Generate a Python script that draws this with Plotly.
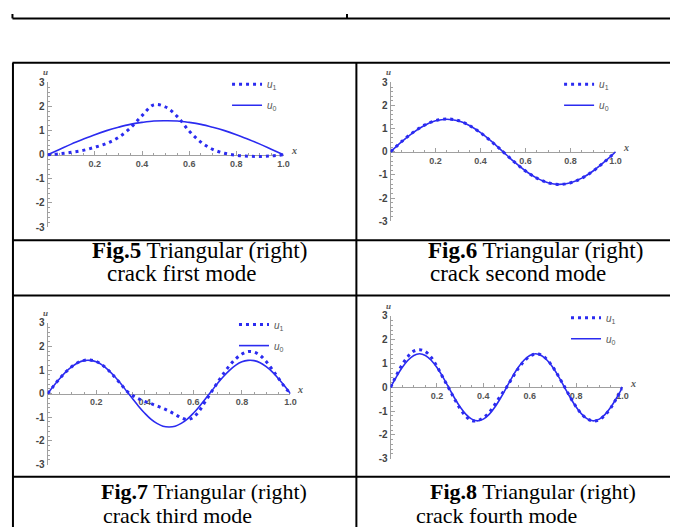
import plotly.graph_objects as go

# ---------------- data ----------------
x_coarse = [0.00, 0.05, 0.10, 0.15, 0.20, 0.25, 0.30, 0.35, 0.40, 0.45, 0.50,
            0.55, 0.60, 0.65, 0.70, 0.75, 0.80, 0.85, 0.90, 0.95, 1.00]
x_fine = [0.000, 0.025, 0.050, 0.075, 0.100, 0.125, 0.150, 0.175, 0.200, 0.225,
          0.250, 0.275, 0.300, 0.325, 0.350, 0.375, 0.400, 0.425, 0.450, 0.475,
          0.500, 0.525, 0.550, 0.575, 0.600, 0.625, 0.650, 0.675, 0.700, 0.725,
          0.750, 0.775, 0.800, 0.825, 0.850, 0.875, 0.900, 0.925, 0.950, 0.975, 1.000]

# Fig.5 first mode
m1_u0 = [0, 0.22, 0.44, 0.64, 0.83, 1.00, 1.14, 1.26, 1.34, 1.40, 1.41,
         1.40, 1.34, 1.26, 1.14, 1.00, 0.83, 0.64, 0.44, 0.22, 0]
m1_u1 = [0, 0.04, 0.10, 0.18, 0.31, 0.47, 0.72, 1.10, 1.62, 2.07, 1.98,
         1.58, 0.98, 0.52, 0.22, 0.06, -0.02, -0.06, -0.07, -0.05, 0]

# Fig.6 second mode
m2_u0 = [0, 0.44, 0.83, 1.14, 1.34, 1.41, 1.34, 1.14, 0.83, 0.44, 0,
         -0.44, -0.83, -1.14, -1.34, -1.41, -1.34, -1.14, -0.83, -0.44, 0]
m2_u1 = [0, 0.45, 0.84, 1.15, 1.35, 1.42, 1.35, 1.14, 0.82, 0.43, 0,
         -0.44, -0.83, -1.14, -1.34, -1.41, -1.34, -1.14, -0.83, -0.44, 0]

# Fig.7 third mode
m3_u0 = [0, 0.33, 0.64, 0.92, 1.14, 1.31, 1.40, 1.41, 1.35, 1.21, 1.00,
         0.74, 0.44, 0.11, -0.22, -0.54, -0.83, -1.08, -1.26, -1.38, -1.41,
         -1.38, -1.26, -1.08, -0.83, -0.54, -0.22, 0.11, 0.44, 0.74, 1.00,
         1.21, 1.35, 1.41, 1.40, 1.31, 1.14, 0.92, 0.64, 0.33, 0]
m3_u1 = [0, 0.33, 0.64, 0.92, 1.15, 1.32, 1.41, 1.42, 1.36, 1.21, 0.99,
         0.72, 0.42, 0.12, -0.08, -0.22, -0.33, -0.42, -0.52, -0.62, -0.74,
         -0.88, -1.02, -1.10, -1.00, -0.72, -0.32, 0.08, 0.48, 0.86, 1.20,
         1.48, 1.68, 1.78, 1.76, 1.62, 1.36, 1.02, 0.66, 0.30, 0]

# Fig.8 fourth mode
m4_u0 = [0, 0.44, 0.83, 1.14, 1.34, 1.41, 1.34, 1.14, 0.83, 0.44, 0,
         -0.44, -0.83, -1.14, -1.34, -1.41, -1.34, -1.14, -0.83, -0.44, 0,
         0.44, 0.83, 1.14, 1.34, 1.41, 1.34, 1.14, 0.83, 0.44, 0,
         -0.44, -0.83, -1.14, -1.34, -1.41, -1.34, -1.14, -0.83, -0.44, 0]
m4_u1 = [0, 0.50, 0.95, 1.30, 1.52, 1.58, 1.50, 1.26, 0.88, 0.42, -0.02,
         -0.48, -0.90, -1.22, -1.40, -1.40, -1.28, -1.06, -0.72, -0.34, 0.0,
         0.40, 0.78, 1.09, 1.30, 1.40, 1.36, 1.16, 0.85, 0.45, 0.02,
         -0.42, -0.82, -1.14, -1.34, -1.42, -1.36, -1.16, -0.86, -0.45, 0]

panels_x = [x_coarse, x_coarse, x_fine, x_fine]
panels_u1 = [m1_u1, m2_u1, m3_u1, m4_u1]
panels_u0 = [m1_u0, m2_u0, m3_u0, m4_u0]

x_tick_vals = [0.2, 0.4, 0.6, 0.8, 1.0]
x_tick_text = ["0.2", "0.4", "0.6", "0.8", "1.0"]
y_tick_vals = [-3, -2, -1, 0, 1, 2, 3]
y_tick_text = ["-3", "-2", "-1", "0", "1", "2", "3"]

captions_1 = ["<b>Fig.5</b> Triangular (right)", "<b>Fig.6</b> Triangular (right)",
              "<b>Fig.7</b> Triangular (right)", "<b>Fig.8</b> Triangular (right)"]
captions_2 = ["crack first mode", "crack second mode",
              "crack third mode", "crack fourth mode"]

# ---------------- layout geometry (pixels) ----------------
W, H = 678, 527
# x0 pixel, x(1.0) pixel, y(3) pixel, y(-3) pixel
geom = [(40, 278, 70, 218), (386, 613, 70, 212),
        (40, 285, 316, 461), (386, 620, 309, 455)]
cap_pos = [((83, 242), (98, 266)), ((422, 242), (424, 266)),
           ((92, 489), (94, 513)), ((424, 489), (410, 513))]
cap_size = [23, 23, 22, 22]

BLUE = "#2b2bf0"
fig = go.Figure()
layout = dict(width=W, height=H, margin=dict(l=0, r=0, t=0, b=0),
              paper_bgcolor="white", plot_bgcolor="white", showlegend=True)
annotations = []
shapes = []

for i in range(4):
    n = "" if i == 0 else str(i + 1)
    xa, ya = "x" + n, "y" + n
    lg = "legend" + n
    gx0, gx1, gy3, gym3 = geom[i]
    xd = [gx0 / W, gx1 / W]
    yd = [1 - gym3 / H, 1 - gy3 / H]
    fig.add_trace(go.Scatter(x=panels_x[i], y=panels_u1[i], mode="lines",
                             line=dict(color=BLUE, width=3, dash="3px,4px", shape="spline"),
                             name="<i>u</i><sub>1</sub>", xaxis=xa, yaxis=ya,
                             legend=lg, legendgroup="a%d" % i))
    fig.add_trace(go.Scatter(x=panels_x[i], y=panels_u0[i], mode="lines",
                             line=dict(color=BLUE, width=1.6, shape="spline"),
                             name="<i>u</i><sub>0</sub>", xaxis=xa, yaxis=ya,
                             legend=lg, legendgroup="b%d" % i))
    layout["xaxis" + n] = dict(
        domain=xd, range=[0, 1.0], anchor="free", position=(yd[0] + yd[1]) / 2,
        showline=True, linecolor="#a0a0a0", linewidth=1, showgrid=False, zeroline=False,
        tickmode="array", tickvals=x_tick_vals, ticktext=x_tick_text,
        ticks="inside", ticklen=4, tickcolor="#a0a0a0",
        minor=dict(dtick=0.05, tick0=0, ticks="inside", ticklen=2, tickcolor="#a0a0a0"),
        tickfont=dict(family="Liberation Sans", size=9, color="#555", weight="bold"),
        layer="below traces", fixedrange=True)
    layout["yaxis" + n] = dict(
        domain=yd, range=[-3, 3], anchor=xa,
        showline=True, linecolor="#a0a0a0", linewidth=1, showgrid=False, zeroline=False,
        tickmode="array", tickvals=y_tick_vals, ticktext=y_tick_text,
        ticks="inside", ticklen=4, tickcolor="#a0a0a0",
        minor=dict(dtick=0.2, tick0=0, ticks="inside", ticklen=2, tickcolor="#a0a0a0"),
        tickfont=dict(family="Liberation Sans", size=10, color="#444", weight="bold"),
        layer="below traces", fixedrange=True)
    layout[lg] = dict(x=(gx1 - 57) / W, y=1 - (gy3 - 13) / H, xanchor="left", yanchor="top",
                      bgcolor="rgba(0,0,0,0)", tracegroupgap=2,
                      font=dict(family="Liberation Sans", size=10, color="#555"))
    annotations.append(dict(x=0, y=3, xref=xa, yref=ya, text="<i><b>u</b></i>",
                            showarrow=False, yshift=10, xshift=-2,
                            font=dict(family="Liberation Serif", size=9, color="#555")))
    annotations.append(dict(x=1.0, y=0, xref=xa, yref=ya, text="<i><b>x</b></i>",
                            showarrow=False, xshift=10, yshift=4,
                            font=dict(family="Liberation Serif", size=10, color="#555")))
    (c1x, c1y), (c2x, c2y) = cap_pos[i]
    annotations.append(dict(x=c1x / W, y=1 - c1y / H, xref="paper", yref="paper",
                            text=captions_1[i], showarrow=False, xanchor="left", yanchor="middle",
                            font=dict(family="Liberation Serif", size=cap_size[i], color="black")))
    annotations.append(dict(x=c2x / W, y=1 - c2y / H, xref="paper", yref="paper",
                            text=captions_2[i], showarrow=False, xanchor="left", yanchor="middle",
                            font=dict(family="Liberation Serif", size=cap_size[i], color="black")))

def seg(x0, y0, x1, y1, w=2):
    shapes.append(dict(type="line", xref="paper", yref="paper",
                       x0=x0 / W, y0=1 - y0 / H, x1=x1 / W, y1=1 - y1 / H,
                       line=dict(color="black", width=w)))

# upper table remnant
seg(4.5, 4.5, W, 4.5)
seg(4.5, 0, 4.5, 4.5)
seg(342, 0, 342, 4.5)
# figure table
for yy in (50, 231.5, 288, 473.5):
    seg(4.5, yy, W, yy)
seg(5, 50, 5, H)
seg(351.5, 50, 351.5, H)

layout["annotations"] = annotations
layout["shapes"] = shapes
fig.update_layout(**layout)
fig.write_html("out.html", config={"displayModeBar": False})
